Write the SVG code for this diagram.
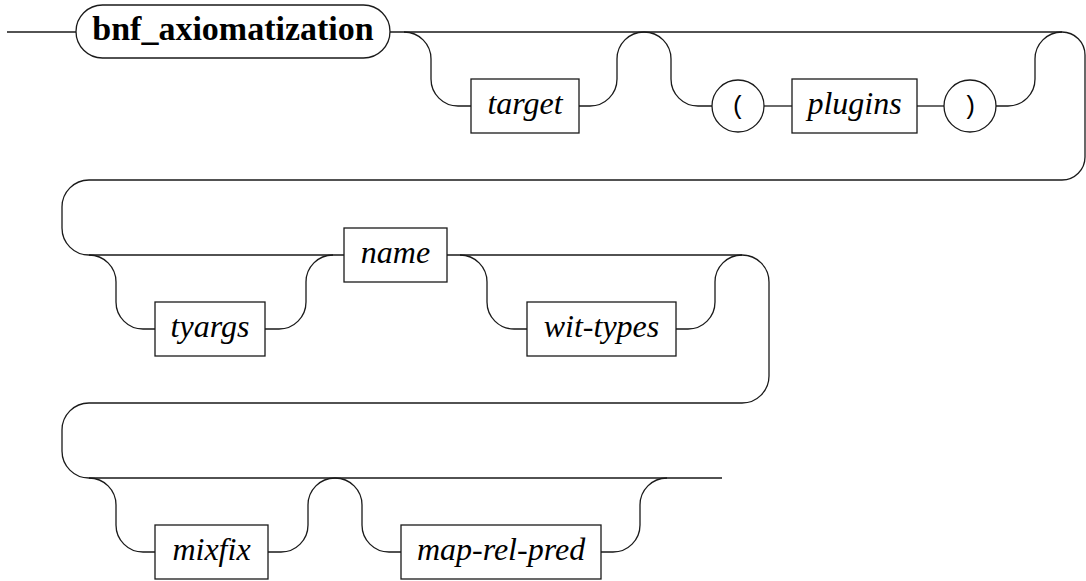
<svg xmlns="http://www.w3.org/2000/svg" width="1086" height="581" viewBox="0 0 1086 581">
<style>
.r{fill:none;stroke:#1a1a1a;stroke-width:1.3}
.b{fill:#fff;stroke:#1a1a1a;stroke-width:1.3}
.t{font-family:'Liberation Serif','Times New Roman','DejaVu Serif',serif;font-style:italic;font-size:32px;fill:#000;text-anchor:middle}
.k{font-family:'Liberation Serif','Times New Roman','DejaVu Serif',serif;font-weight:bold;font-size:34px;fill:#000;text-anchor:middle}
.m{font-family:'Liberation Mono','DejaVu Sans Mono',monospace;font-size:25px;fill:#000;text-anchor:middle}
</style>
<g id="connectors" class="r">
<path d="M7 32 H76"/>
<path d="M390 32 H1062 A23 23 0 0 1 1085 55 V157 A23 23 0 0 1 1062 180 H89 A27 27 0 0 0 62 207 V228 A27 27 0 0 0 89 255 H344"/>
<path d="M404 32 A27 27 0 0 1 431 59 V79 A27 27 0 0 0 458 106 H471"/>
<path d="M579 106 H590 A27 27 0 0 0 617 79 V59 A27 27 0 0 1 644 32"/>
<path d="M644 32 A27 27 0 0 1 671 59 V79 A27 27 0 0 0 698 106 H712"/>
<path d="M764 106 H792"/>
<path d="M917 106 H944"/>
<path d="M996 106 H1008 A27 27 0 0 0 1035 79 V59 A27 27 0 0 1 1062 32"/>
<path d="M89 255 A27 27 0 0 1 116 282 V302 A27 27 0 0 0 143 329 H155"/>
<path d="M265 329 H279 A27 27 0 0 0 306 302 V282 A27 27 0 0 1 333 255"/>
<path d="M447 255 H742 A27 27 0 0 1 769 282 V376 A27 27 0 0 1 742 403 H89 A27 27 0 0 0 62 430 V451 A27 27 0 0 0 89 478 H722"/>
<path d="M460 255 A27 27 0 0 1 487 282 V302 A27 27 0 0 0 514 329 H527"/>
<path d="M676 329 H688 A27 27 0 0 0 715 302 V282 A27 27 0 0 1 742 255"/>
<path d="M89 478 A27 27 0 0 1 116 505 V525 A27 27 0 0 0 143 552 H155"/>
<path d="M268 552 H281 A27 27 0 0 0 308 525 V505 A27 27 0 0 1 335 478"/>
<path d="M335 478 A27 27 0 0 1 362 505 V525 A27 27 0 0 0 389 552 H401"/>
<path d="M601 552 H613 A27 27 0 0 0 640 525 V505 A27 27 0 0 1 667 478"/>
</g>
<g id="n_bnf"><rect class="b" x="76" y="5" width="314" height="53" rx="26.5"/><text class="k" x="233" y="40">bnf_axiomatization</text></g>
<g id="n_target"><rect class="b" x="471" y="79" width="108" height="54"/><text class="t" x="525" y="114">target</text></g>
<g id="n_lparen"><circle class="b" cx="738" cy="106" r="26"/><text class="m" x="738" y="114">(</text></g>
<g id="n_plugins"><rect class="b" x="792" y="79" width="125" height="54"/><text class="t" x="854.5" y="114">plugins</text></g>
<g id="n_rparen"><circle class="b" cx="970" cy="106" r="26"/><text class="m" x="970" y="114">)</text></g>
<g id="n_tyargs"><rect class="b" x="155" y="302" width="110" height="54"/><text class="t" x="210" y="337">tyargs</text></g>
<g id="n_name"><rect class="b" x="344" y="228" width="103" height="54"/><text class="t" x="395.5" y="263">name</text></g>
<g id="n_wittypes"><rect class="b" x="527" y="302" width="149" height="54"/><text class="t" x="601.5" y="337">wit-types</text></g>
<g id="n_mixfix"><rect class="b" x="155" y="525" width="113" height="54"/><text class="t" x="211.5" y="560">mixfix</text></g>
<g id="n_maprelpred"><rect class="b" x="401" y="525" width="200" height="54"/><text class="t" x="501" y="560">map-rel-pred</text></g>
</svg>
